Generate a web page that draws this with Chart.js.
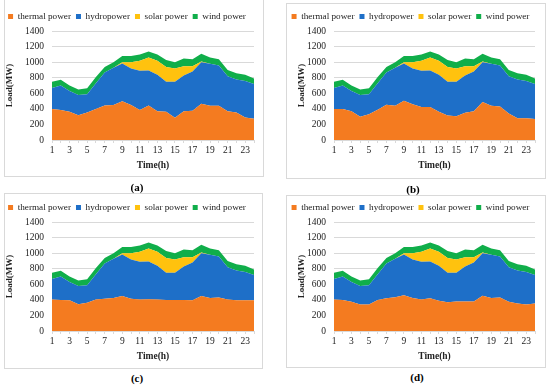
<!DOCTYPE html>
<html>
<head>
<meta charset="utf-8">
<script src="https://cdn.jsdelivr.net/npm/chart.js@4"></script>
<style>
    body { margin: 0; background: #fff; width: 550px; height: 388px; position: relative; overflow: hidden; font-family: "Liberation Serif", serif; }
    .box { position: absolute; border: 1px solid #d9d9d9; box-sizing: border-box; }
    .cv { position: absolute; }
    .lab { position: absolute; font-size: 11px; font-weight: bold; width: 40px; text-align: center; color: #000; }
</style>
</head>
<body>
<div class="box" style="left:4px;top:-1px;width:260px;height:178px;"></div>
<div class="box" style="left:286px;top:3px;width:260px;height:176px;"></div>
<div class="box" style="left:4px;top:193px;width:259px;height:176px;"></div>
<div class="box" style="left:286px;top:195px;width:260px;height:173px;"></div>

<canvas id="chartA" class="cv" style="left:0px;top:0px;" width="264" height="176"></canvas>
<canvas id="chartB" class="cv" style="left:286px;top:0px;" width="259" height="176"></canvas>
<canvas id="chartC" class="cv" style="left:0px;top:191px;" width="264" height="176"></canvas>
<canvas id="chartD" class="cv" style="left:286px;top:191px;" width="259" height="176"></canvas>

<div class="lab" style="left:117px;top:181px;">(a)</div>
<div class="lab" style="left:393px;top:183px;">(b)</div>
<div class="lab" style="left:117px;top:372px;">(c)</div>
<div class="lab" style="left:397px;top:371px;">(d)</div>

<script>
var hours = ['1','2','3','4','5','6','7','8','9','10','11','12','13','14','15','16','17','18','19','20','21','22','23','24'];
var seriesNames = ['thermal power', 'hydropower', 'solar power', 'wind power'];
var yTicks = [0, 200, 400, 600, 800, 1000, 1200, 1400];

// thermal power per scheme (MW)
var thermalA = [400, 385, 365, 320, 355, 400, 445, 450, 500, 450, 385, 445, 370, 365, 285, 370, 375, 465, 440, 440, 370, 355, 290, 275];
var thermalB = [400, 400, 370, 300, 330, 390, 455, 440, 505, 460, 425, 425, 365, 315, 305, 350, 370, 490, 440, 430, 340, 280, 280, 270];
var thermalC = [405, 400, 395, 345, 365, 405, 415, 425, 450, 415, 405, 410, 405, 400, 400, 400, 395, 450, 425, 430, 405, 395, 395, 395];
var thermalD = [405, 400, 375, 340, 340, 400, 420, 435, 460, 425, 405, 420, 390, 370, 380, 380, 380, 455, 425, 430, 375, 355, 340, 355];

// hydropower per scheme (MW)
var hydroA = [270, 315, 265, 260, 235, 330, 425, 480, 485, 470, 505, 450, 470, 385, 465, 460, 505, 535, 540, 520, 450, 425, 470, 445];
var hydroB = [270, 300, 260, 280, 260, 340, 415, 490, 480, 460, 465, 470, 475, 435, 445, 480, 510, 510, 540, 530, 480, 500, 480, 450];
var hydroC = [265, 300, 235, 235, 225, 325, 455, 505, 535, 505, 485, 485, 435, 350, 350, 430, 485, 550, 555, 530, 415, 385, 365, 325];
var hydroD = [265, 300, 255, 240, 250, 330, 450, 495, 525, 495, 485, 475, 450, 380, 370, 450, 500, 545, 555, 530, 445, 425, 420, 365];

// same in all schemes
var solar = [0, 0, 0, 0, 0, 0, 0, 0, 15, 80, 130, 165, 180, 190, 170, 120, 70, 10, 0, 0, 0, 0, 0, 0];
var wind = [80, 75, 70, 70, 75, 80, 70, 70, 80, 80, 80, 80, 80, 90, 80, 100, 90, 100, 80, 80, 80, 80, 80, 70];

var colors = ['#f47b20', '#1e6fc8', '#ffc20e', '#10ae4a'];

function makeChart(id, thermal, hydro, yWidth, titlePad) {
    var values = [thermal, hydro, solar, wind];
    var datasets = values.map(function(v, i) {
        return {
            label: seriesNames[i],
            data: v,
            backgroundColor: colors[i],
            borderColor: colors[i],
            borderWidth: 0,
            pointRadius: 0,
            tension: 0,
            fill: i === 0 ? 'origin' : '-1'
        };
    });

    return new Chart(document.getElementById(id), {
        type: 'line',
        data: { labels: hours, datasets: datasets },
        options: {
            responsive: false,
            animation: false,
            layout: { padding: { left: 0, right: 10, top: 7, bottom: 0 } },
            plugins: {
                tooltip: { enabled: false },
                legend: {
                    position: 'top',
                    labels: {
                        usePointStyle: true,
                        pointStyle: 'rect',
                        boxWidth: 5,
                        boxHeight: 5,
                        padding: 5,
                        color: '#222',
                        font: { family: 'Liberation Serif', size: 9.2 }
                    }
                }
            },
            scales: {
                x: {
                    offset: false,
                    grid: { drawOnChartArea: false, drawTicks: true, tickLength: 3, color: '#d9d9d9' },
                    border: { color: '#d9d9d9' },
                    ticks: {
                        autoSkip: false,
                        maxRotation: 0,
                        padding: 2,
                        color: '#222',
                        font: { family: 'Liberation Serif', size: 9.5 },
                        callback: function(val, idx) { return idx % 2 === 0 ? hours[idx] : ''; }
                    },
                    title: {
                        display: true,
                        text: 'Time(h)',
                        color: '#222',
                        padding: { top: 0, bottom: 5 },
                        font: { family: 'Liberation Serif', size: 9.5, weight: 'bold' }
                    },
                    afterFit: function(s) { s.height = 36; }
                },
                y: {
                    stacked: true,
                    min: 0,
                    max: 1400,
                    afterBuildTicks: function(s) { s.ticks = yTicks.map(function(t) { return { value: t }; }); },
                    grid: { color: '#d9d9d9', drawTicks: false },
                    border: { display: false },
                    ticks: {
                        autoSkip: false,
                        padding: 8,
                        color: '#222',
                        font: { family: 'Liberation Serif', size: 9.5 },
                        callback: function(val) { return String(val); }
                    },
                    title: {
                        display: true,
                        text: 'Load(MW)',
                        color: '#222',
                        padding: { top: titlePad, bottom: 0 },
                        font: { family: 'Liberation Serif', size: 9, weight: 'bold' }
                    },
                    afterFit: function(s) { s.width = yWidth; }
                }
            }
        }
    });
}

makeChart('chartA', thermalA, hydroA, 52, 4);
makeChart('chartB', thermalB, hydroB, 48, 10);
makeChart('chartC', thermalC, hydroC, 52, 4);
makeChart('chartD', thermalD, hydroD, 48, 10);
</script>
</body>
</html>
